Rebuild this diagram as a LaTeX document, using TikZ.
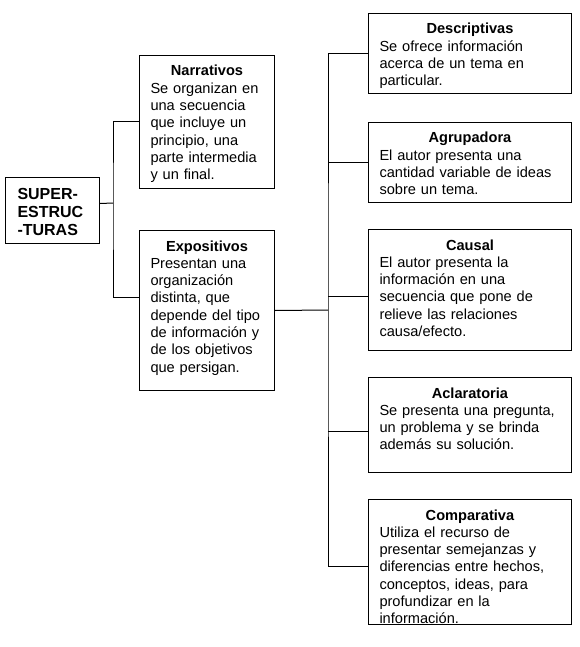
\documentclass[tikz,border=0pt]{standalone}
\usepackage{fontspec}
\setmainfont{Liberation Sans}
\newcommand\ttl[1]{{\centering\textbf{#1}\par}}
\begin{document}
\begin{tikzpicture}[x=1pt,y=-1pt,
  line width=1pt,
  topic/.style 2 args={draw, anchor=north west, align=left, text width=#1,
    inner xsep=11pt, inner ysep=0pt, text height=20.5pt, text depth=#2,
    font=\fontsize{14.6}{17.3}\selectfont},
  root/.style={draw, anchor=north west, align=left, text width=70pt,
    inner xsep=12pt, inner ysep=0pt, text height=22pt, text depth=44pt,
    font=\bfseries\fontsize{16}{18}\selectfont}
]
\useasboundingbox (0,0) rectangle (580,647);

\node[root] (super) at (5,177) {SUPER-\\ESTRUC\\-TURAS};

\node[topic={113pt}{112.5pt}] (narr) at (139,55) {\ttl{Narrativos}Se organizan en\\una secuencia\\que incluye un\\principio, una\\parte intermedia\\y un final.};
\node[topic={113pt}{139.5pt}] (expo) at (139,230) {\ttl{Expositivos}Presentan una\\organización\\distinta, que\\depende del tipo\\de información y\\de los objetivos\\que persigan.};

\node[topic={181pt}{59.5pt}] (desc) at (368,13) {\ttl{Descriptivas}Se ofrece información\\acerca de un tema en\\particular.};
\node[topic={181pt}{59.5pt}] (agru) at (368,122) {\ttl{Agrupadora}El autor presenta una\\cantidad variable de ideas\\sobre un tema.};
\node[topic={181pt}{100.5pt}] (caus) at (368,229) {\ttl{Causal}El autor presenta la\\información en una\\secuencia que pone de\\relieve las relaciones\\causa/efecto.};
\node[topic={181pt}{74.5pt}] (acla) at (368,377) {\ttl{Aclaratoria}Se presenta una pregunta,\\un problema y se brinda\\además su solución.};
\node[topic={181pt}{104.5pt}] (comp) at (368,499) {\ttl{Comparativa}Utiliza el recurso de\\presentar semejanzas y\\diferencias entre hechos,\\conceptos, ideas, para\\profundizar en la\\información.};

% left branch
\coordinate (split) at (113,203);
\draw ([yshift=7pt]super.east) -- (split);
\draw (narr.west) -| (split) |- ([yshift=13pt]expo.west);

% right bus
\coordinate (bus) at (328,310);
\draw (expo.east) -- (bus);
\draw (desc.west) -| (bus) |- ([yshift=-4.5pt]comp.west);
\draw (agru.west) -- (agru.west -| bus);
\draw ([yshift=-6.5pt]caus.west) -- ([yshift=-6.5pt]caus.west -| bus);
\draw ([yshift=-6.5pt]acla.west) -- ([yshift=-6.5pt]acla.west -| bus);
\end{tikzpicture}
\end{document}
